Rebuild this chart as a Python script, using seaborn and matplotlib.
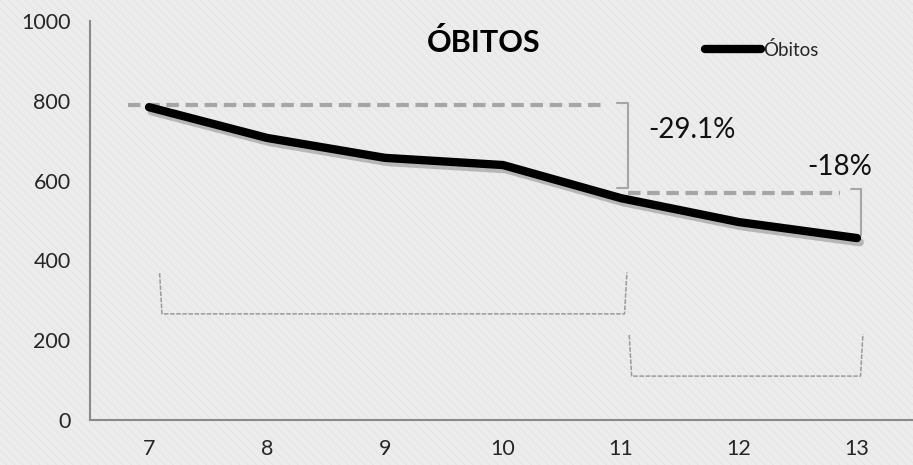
import matplotlib
matplotlib.use("Agg")
import matplotlib.pyplot as plt
import matplotlib.patheffects as pe
from matplotlib.patches import Rectangle
import seaborn as sns
import pandas as pd

# data
months = [7, 8, 9, 10, 11, 12, 13]
obitos = [784, 707, 657, 639, 556, 496, 456]
series_name = "Óbitos"
title = "ÓBITOS"
y_ticks = [0, 200, 400, 600, 800, 1000]
change_labels = ["-29.1%", "-18%"]

df = pd.DataFrame({"mes": months, "obitos": obitos})

sns.set_style("white")
plt.rcParams["font.family"] = ["Lato", "DejaVu Sans"]
plt.rcParams["hatch.linewidth"] = 0.4

fig = plt.figure(figsize=(9.13, 4.65), dpi=100)
fig.patch.set_facecolor("#ececec")
# light woven texture behind everything
fig.patches.append(Rectangle((0, 0), 1, 1, transform=fig.transFigure,
                             facecolor="#ececec", edgecolor="#dedede",
                             hatch="\\\\\\\\", lw=0, zorder=-10))

ax = fig.add_axes([90 / 913, 45 / 465, 826 / 913, 399 / 465])
ax.set_facecolor("none")

sns.lineplot(data=df, x="mes", y="obitos", ax=ax, color="black", lw=6,
             label=series_name, solid_capstyle="round", solid_joinstyle="round",
             path_effects=[pe.SimpleLineShadow(offset=(2, -3), shadow_color="#777777", alpha=0.45),
                           pe.Normal()], zorder=5)

ax.set_xlim(months[0] - 0.5, months[-1] + 0.5)
ax.set_ylim(0, 1000)
ax.set_xticks(months)
ax.set_xticks([m - 0.5 for m in months] + [months[-1] + 0.5], minor=True)
ax.set_yticks(y_ticks)
ax.tick_params(axis="x", which="major", length=0, pad=14, labelsize=15.5)
ax.tick_params(axis="x", which="minor", length=8, width=1.3, color="#8a8a8a", direction="out")
ax.tick_params(axis="y", length=6, width=1.3, color="#8a8a8a", direction="out", labelsize=15.5, pad=8)
ax.set_xlabel("")
ax.set_ylabel("")
for s in ["top", "right"]:
    ax.spines[s].set_visible(False)
for s in ["left", "bottom"]:
    ax.spines[s].set_color("#8a8a8a")
    ax.spines[s].set_linewidth(1.5)

# change brackets (dashed reference line + solid bracket)
v0, v4, v6 = obitos[0], obitos[4], obitos[6]
gray = "#a6a6a6"
ax.plot([6.82, 10.84], [v0 + 5, v0 + 5], ls=(0, (3, 1.6)), color=gray, lw=3, zorder=3)
ax.plot([10.97, 11.06, 11.06, 10.97], [v0 + 10, v0 + 10, v4 + 25, v4 + 25], color=gray, lw=1.5)
ax.plot([11.06, 12.86], [v4 + 13, v4 + 13], ls=(0, (3, 1.6)), color=gray, lw=3, zorder=3)
ax.plot([12.95, 13.03, 13.03], [v4 + 23, v4 + 23, v6 + 8], color=gray, lw=1.5)
ax.text(11.23, 727, change_labels[0], fontsize=20, va="center", ha="left", color="#111111")
ax.text(12.58, 634, change_labels[1], fontsize=20, va="center", ha="left", color="#111111")

# thin dotted period brackets
thin = dict(color="#9a9a9a", lw=1.1, ls=(0, (3, 1)))
ax.plot([7.09, 7.11, 11.03, 11.05], [368, 266, 266, 370], **thin)
ax.plot([11.07, 11.09, 13.03, 13.05], [213, 110, 110, 215], **thin)

ax.text(0.477, 0.945, title, transform=ax.transAxes, ha="center", va="center",
        fontsize=22, fontweight="bold", color="black")

leg = ax.legend(loc="center left", bbox_to_anchor=(705 / 913, 1 - 50 / 465),
                bbox_transform=fig.transFigure, frameon=False, borderpad=0,
                borderaxespad=0, handlelength=3.0, handletextpad=0.1, fontsize=13.5)
for h in leg.get_lines():
    h.set_path_effects([])

fig.savefig("out.png", dpi=100, facecolor=fig.get_facecolor())
